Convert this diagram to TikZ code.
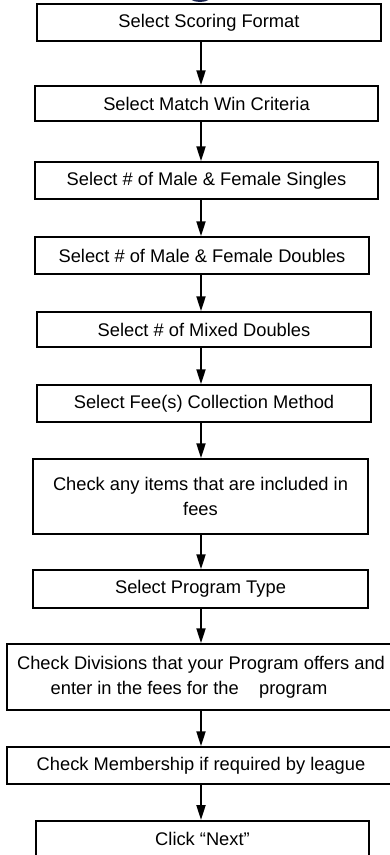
\documentclass[tikz,border=0pt]{standalone}
\usepackage{fontspec}
\setmainfont{Liberation Sans}
\usetikzlibrary{arrows.meta}
\definecolor{topblue}{HTML}{1B2550}
\tikzset{
	stepbox/.style={draw, line width=1.5pt, rectangle, inner sep=0pt, align=center, font=\fontsize{18.3}{25}\selectfont},
	flow/.style={line width=2pt, -{Triangle[length=15pt,width=9pt]}}
}

\begin{document}
\begin{tikzpicture}[x=1pt,y=-1pt]
		%%%%% START %%%%%
		\clip (0,0) rectangle (390,855);
		\fill[topblue] (200,-6) ellipse (13 and 8);
		
		\coordinate (axis) at (201,0);
		
		\node[stepbox, minimum width=344, minimum height=37] (scoring) at (209,22.5) {Select Scoring Format};
		\node[stepbox, minimum width=343, minimum height=35] (matchwin) at (206.5,103.5) {Select Match Win Criteria};
		\node[stepbox, minimum width=343, minimum height=37] (singles) at (206.5,180.5) {Select \# of Male \& Female Singles};
		\node[stepbox, minimum width=334, minimum height=37] (doubles) at (202,255.5) {Select \# of Male \& Female Doubles};
		\node[stepbox, minimum width=334, minimum height=35] (mixed) at (204,329.5) {Select \# of Mixed Doubles};
		\node[stepbox, minimum width=334, minimum height=37] (feemethod) at (204,403.5) {Select Fee(s) Collection Method};
		\node[stepbox, minimum width=335, minimum height=75] (items) at (200.5,496.5) {Check any items that are included in\\fees};
		\node[stepbox, minimum width=335, minimum height=38] (progtype) at (200.5,589) {Select Program Type};
		\node[stepbox, minimum width=388, minimum height=66] (divisions) at (201,677) {Check Divisions that your Program offers and\\enter in the fees for the\ \ \ \ program\hspace*{24pt}};
		\node[stepbox, minimum width=388, minimum height=37] (membership) at (201,765.5) {Check Membership if required by league};
		\node[stepbox, minimum width=333, minimum height=37, anchor=north] (next) at (202.5,820) {Click “Next”};
		
		\draw[flow] (scoring.south -| axis) -- (matchwin.north -| axis);
		\draw[flow] (matchwin.south -| axis) -- (singles.north -| axis);
		\draw[flow] (singles.south -| axis) -- (doubles.north -| axis);
		\draw[flow] (doubles.south -| axis) -- (mixed.north -| axis);
		\draw[flow] (mixed.south -| axis) -- (feemethod.north -| axis);
		\draw[flow] (feemethod.south -| axis) -- (items.north -| axis);
		\draw[flow] (items.south -| axis) -- (progtype.north -| axis);
		\draw[flow] (progtype.south -| axis) -- (divisions.north -| axis);
		\draw[flow] (divisions.south -| axis) -- (membership.north -| axis);
		\draw[flow] (membership.south -| axis) -- (next.north -| axis);
		%%%%% END %%%%%
	\end{tikzpicture}
\end{document}
